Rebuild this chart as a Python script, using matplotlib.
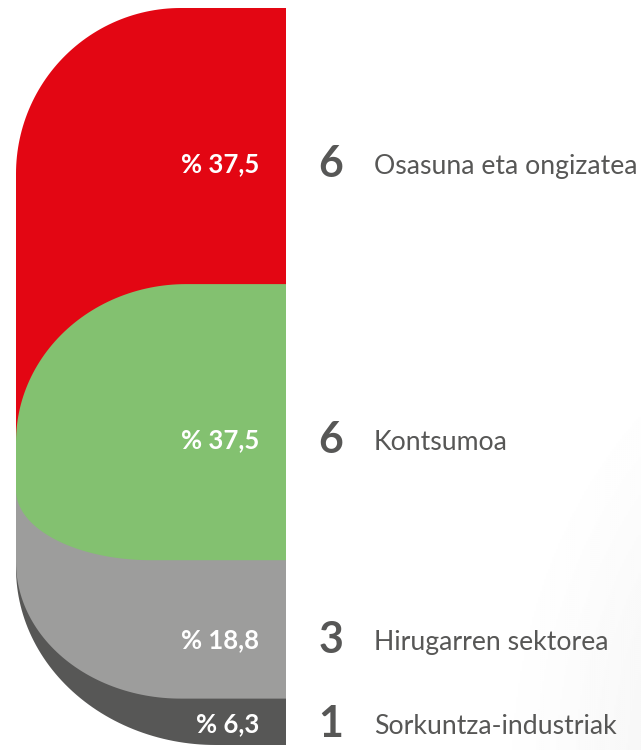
import numpy as np
import matplotlib
matplotlib.use("Agg")
import matplotlib.pyplot as plt
from matplotlib.patches import Polygon

plt.rcParams['font.family'] = ['Lato', 'DejaVu Sans']

# data
sectors = ["Osasuna eta ongizatea", "Kontsumoa", "Hirugarren sektorea", "Sorkuntza-industriak"]
counts = [6, 6, 3, 1]
shares = [37.5, 37.5, 18.8, 6.3]
share_labels = ["% 37,5", "% 37,5", "% 18,8", "% 6,3"]

colors = ["#E30613", "#83C170", "#9D9D9C", "#575756"]
text_color = "#575756"


def left_rounded(top, bottom, tl=(0, 0), bl=(0, 0), n=60):
    # closed outline with elliptical corners on the left side only
    pts = [(1.0, top)]
    rx, ry = tl
    t = np.linspace(0, np.pi / 2, n)
    if rx > 0:
        pts += list(zip(rx - rx * np.sin(t), top + ry - ry * np.cos(t)))
    else:
        pts.append((0.0, top))
    rx, ry = bl
    if rx > 0:
        pts += list(zip(rx - rx * np.cos(t), bottom - ry + ry * np.sin(t)))
    else:
        pts.append((0.0, bottom))
    pts.append((1.0, bottom))
    return pts


fig = plt.figure(figsize=(6.41, 7.5), dpi=100)

# faint shadow in the background at bottom right
bg = fig.add_axes([0, 0, 1, 1])
gx, gy = np.meshgrid(np.linspace(0, 641, 320), np.linspace(0, 750, 375))
d = np.sqrt(((gx - 880) / 400) ** 2 + ((gy - 780) / 520) ** 2)
shade = np.clip(1 - d, 0, 1) ** 1.3 * 0.10
bg.imshow(1 - shade, cmap="gray", vmin=0, vmax=1, extent=[0, 641, 750, 0], aspect="auto")
bg.set_xlim(0, 641)
bg.set_ylim(750, 0)
bg.axis("off")

ax = fig.add_axes([16 / 641, 5 / 750, 270 / 641, 737 / 750])
ax.set_xlim(0, 1)
ax.set_ylim(100, 0)
ax.axis("off")

cum = np.concatenate([[0], np.cumsum(shares)])
cum = cum / cum[-1] * 100

# shapes: each one reaches under the next so that only the corners reveal it
shapes = [
    dict(top=cum[0], bottom=cum[1] + 25, tl=(0.61, 22.5), bl=(0, 0), z=1),
    dict(top=cum[1], bottom=cum[2], tl=(0.63, 21.4), bl=(0.50, 9.5), z=4),
    dict(top=cum[2] - 12.5, bottom=cum[3], tl=(0, 0), bl=(0.61, 18.5), z=3),
    dict(top=cum[3] - 18.7, bottom=cum[4], tl=(0, 0), bl=(0.74, 24.0), z=2),
]
for s, c in zip(shapes, colors):
    ax.add_patch(Polygon(left_rounded(s["top"], s["bottom"], s["tl"], s["bl"]),
                         closed=True, facecolor=c, edgecolor="none", zorder=s["z"]))

label_nudge = [2.5, 2.4, 1.5, 0.3]
for i in range(len(sectors)):
    y = (cum[i] + cum[i + 1]) / 2 + label_nudge[i]
    ax.text(0.9, y, share_labels[i], ha="right", va="center", color="white",
            fontsize=18.5, fontweight="bold", zorder=10)
    ax.text(1.167, y, str(counts[i]), ha="center", va="center", color=text_color,
            fontsize=31, fontweight="bold", clip_on=False, zorder=10)
    ax.text(1.326, y + 0.3, sectors[i], ha="left", va="center", color=text_color,
            fontsize=19.2, clip_on=False, zorder=10)

fig.savefig("out.png", dpi=100)
